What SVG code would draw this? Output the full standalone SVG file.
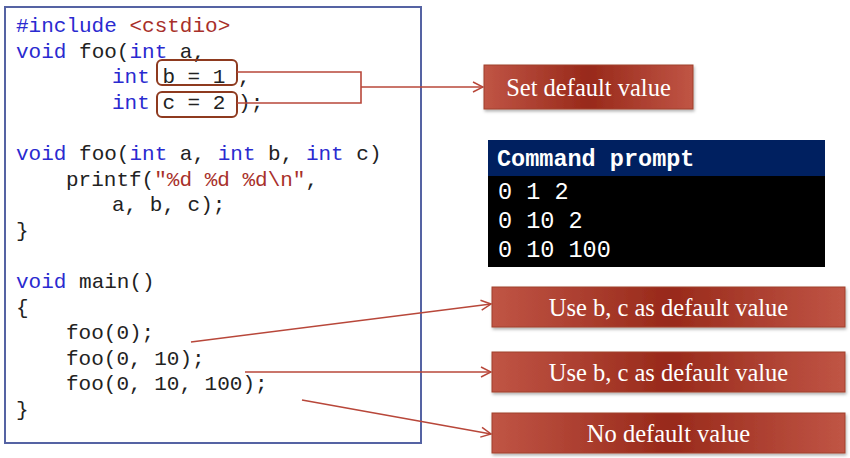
<svg xmlns="http://www.w3.org/2000/svg" width="850" height="458" viewBox="0 0 850 458">
<style>
.code{font-family:"Liberation Mono","Courier New",monospace;font-size:21px;fill:#222;white-space:pre}
.kw{fill:#2a2ad0}
.str{fill:#a8302a}
.lbl{font-family:"Liberation Serif","DejaVu Serif",serif;font-size:24.5px;fill:#fff;text-anchor:middle}
.term{font-family:"Liberation Mono","Courier New",monospace;font-size:23.5px;fill:#fff;white-space:pre}
.conn{stroke:#b8473a;stroke-width:1.6;fill:none}
.hl{stroke:#8e3a1f;stroke-width:2;fill:none}
.rbox{fill:url(#rg);stroke:#a0402e;stroke-width:1}
</style>
<defs>
<linearGradient id="rg" x1="0" y1="0" x2="1" y2="0">
<stop offset="0" stop-color="#c05545"/>
<stop offset="0.5" stop-color="#98291a"/>
<stop offset="1" stop-color="#c05545"/>
</linearGradient>
<filter id="sh" x="-5%" y="-10%" width="110%" height="130%">
<feDropShadow dx="1" dy="2" stdDeviation="1.5" flood-color="#000" flood-opacity="0.3"/>
</filter>
<marker id="arr" viewBox="0 0 12 12" refX="11" refY="6" markerWidth="12" markerHeight="12" markerUnits="userSpaceOnUse" orient="auto">
<path d="M1,1 L11,6 L1,11" fill="none" stroke="#b8473a" stroke-width="1.5"/>
</marker>
</defs>
<rect width="850" height="458" fill="#fff"/>

<g id="code">
<rect x="5" y="7" width="416" height="436" fill="#fff" stroke="#5563a3" stroke-width="2"/>
<text class="code" x="16" y="32"><tspan class="kw">#include</tspan> <tspan class="str">&lt;cstdio&gt;</tspan></text>
<text class="code" x="16" y="57.6"><tspan class="kw">void</tspan> foo(<tspan class="kw">int</tspan> a,</text>
<text class="code" x="112" y="83.2"><tspan class="kw">int</tspan> b = 1 ,</text>
<text class="code" x="112" y="108.8"><tspan class="kw">int</tspan> c = 2 );</text>
<text class="code" x="16" y="160"><tspan class="kw">void</tspan> foo(<tspan class="kw">int</tspan> a, <tspan class="kw">int</tspan> b, <tspan class="kw">int</tspan> c)</text>
<text class="code" x="66" y="185.6">printf(<tspan class="str">"%d %d %d\n"</tspan>,</text>
<text class="code" x="112" y="211.2">a, b, c);</text>
<text class="code" x="16" y="236.8">}</text>
<text class="code" x="16" y="288"><tspan class="kw">void</tspan> main()</text>
<text class="code" x="16" y="313.6">{</text>
<text class="code" x="66" y="339.2">foo(0);</text>
<text class="code" x="66" y="364.8">foo(0, 10);</text>
<text class="code" x="66" y="390.4">foo(0, 10, 100);</text>
<text class="code" x="16" y="416">}</text>
<rect class="hl" x="157" y="60" width="80" height="25" rx="5"/>
<rect class="hl" x="157" y="92" width="80" height="25" rx="5"/>
</g>

<g id="connectors">
<polyline class="conn" points="237,72 361,72 361,103 237,103"/>
<line class="conn" x1="361" y1="87" x2="483" y2="87" marker-end="url(#arr)"/>
<line class="conn" x1="191" y1="342" x2="491" y2="304" marker-end="url(#arr)"/>
<line class="conn" x1="245" y1="372" x2="491" y2="372" marker-end="url(#arr)"/>
<line class="conn" x1="302" y1="400" x2="491" y2="434" marker-end="url(#arr)"/>
</g>

<g id="set-default">
<rect class="rbox" x="484" y="65" width="209" height="44" filter="url(#sh)"/>
<text class="lbl" x="588.5" y="96">Set default value</text>
</g>

<g id="command-prompt">
<rect x="488" y="140" width="337" height="127" fill="#000"/>
<rect x="488" y="140" width="337" height="36" fill="#002060"/>
<text class="term" x="497" y="166" font-weight="bold">Command prompt</text>
<text class="term" x="498" y="199">0 1 2</text>
<text class="term" x="498" y="228">0 10 2</text>
<text class="term" x="498" y="257">0 10 100</text>
</g>

<g id="use-default-1">
<rect class="rbox" x="492" y="287" width="353" height="40" filter="url(#sh)"/>
<text class="lbl" x="668.5" y="316">Use b, c as default value</text>
</g>

<g id="use-default-2">
<rect class="rbox" x="492" y="352" width="353" height="40" filter="url(#sh)"/>
<text class="lbl" x="668.5" y="381">Use b, c as default value</text>
</g>

<g id="no-default">
<rect class="rbox" x="492" y="413" width="353" height="40" filter="url(#sh)"/>
<text class="lbl" x="668.5" y="442">No default value</text>
</g>
</svg>
